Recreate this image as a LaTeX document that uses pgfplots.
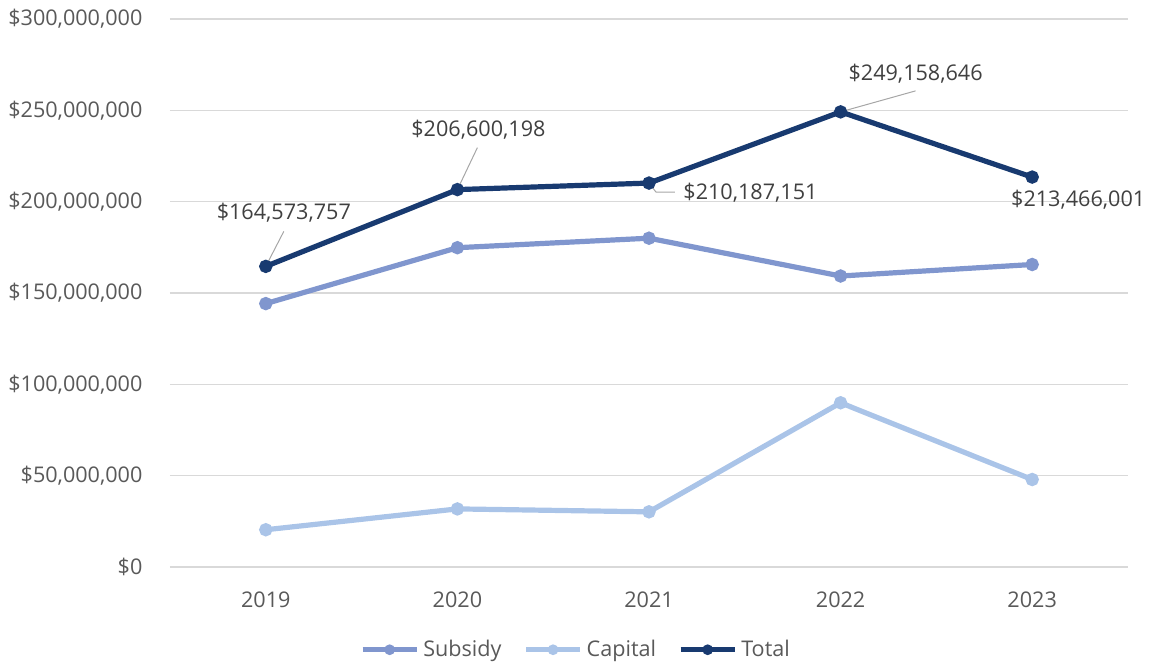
\documentclass[border=0pt]{standalone}
\usepackage{pgfplots}
\pgfplotsset{compat=1.18}
\usepackage{fontspec}
\setmainfont{Open Sans}
\definecolor{cTotal}{HTML}{183A70}
\definecolor{cSub}{HTML}{8096CE}
\definecolor{cCap}{HTML}{AAC4E8}
\definecolor{cGrid}{HTML}{D9D9D9}
\definecolor{cTick}{HTML}{595959}
\definecolor{cLab}{HTML}{404040}
\begin{document}
\fontsize{10.8bp}{13bp}\selectfont
\begin{tikzpicture}
\begin{axis}[
  name=ax,
  scale only axis,
  width=479bp, height=274bp,
  xmin=-0.5, xmax=4.5,
  ymin=0, ymax=300000000,
  xtick={0,1,2,3,4},
  xticklabels={2019,2020,2021,2022,2023},
  ytick={0,50000000,100000000,150000000,200000000,250000000,300000000},
  yticklabels={{\$0},{\$50,000,000},{\$100,000,000},{\$150,000,000},{\$200,000,000},{\$250,000,000},{\$300,000,000}},
  ymajorgrids,
  grid style={cGrid, line width=0.6bp},
  axis line style={draw=none},
  major tick length=0pt,
  tick style={draw=none},
  ticklabel style={font=\fontsize{10.8bp}{13bp}\selectfont, text=cTick},
  yticklabel style={anchor=east, xshift=-10bp},
  xticklabel style={anchor=north, yshift=-8.5bp},
  scaled y ticks=false,
  clip=false,
  legend style={draw=none, fill=none, at={(0.4248,-0.151)}, anchor=center,
    legend columns=3, font=\fontsize{10.8bp}{13bp}\selectfont, text=cTick,
    /tikz/every even column/.append style={column sep=9bp},
    inner sep=0pt, outer sep=0pt},
  legend cell align=left,
  legend image code/.code={\draw[#1, mark size=1.3bp, mark repeat=2, mark phase=2] plot coordinates {(0bp,0bp) (13.5bp,0bp) (27bp,0bp)};},
]
\addplot[cSub, line width=2.6bp, mark=*, mark size=2bp, mark options={solid}] coordinates {
  (0,144200000) (1,174800000) (2,180000000) (3,159300000) (4,165600000)};
\addlegendentry{Subsidy}
\addplot[cCap, line width=2.6bp, mark=*, mark size=2bp, mark options={solid}] coordinates {
  (0,20400000) (1,31800000) (2,30200000) (3,89900000) (4,47900000)};
\addlegendentry{Capital}
\addplot[cTotal, line width=2.6bp, mark=*, mark size=2bp, mark options={solid}] coordinates {
  (0,164573757) (1,206600198) (2,210187151) (3,249158646) (4,213466001)};
\addlegendentry{Total}

\draw[gray!70, line width=0.5bp] (axis cs:0,164573757) -- ++(9bp,17.5bp);
\node[text=cLab, anchor=center, inner sep=0pt] at ([shift={(9bp,27bp)}]axis cs:0,164573757) {\$164,573,757};
\draw[gray!70, line width=0.5bp] (axis cs:1,206600198) -- ++(10bp,21bp);
\node[text=cLab, anchor=center, inner sep=0pt] at ([shift={(10.5bp,30bp)}]axis cs:1,206600198) {\$206,600,198};
\draw[gray!70, line width=0.5bp] (axis cs:2,210187151) -- ++(3.5bp,-4.5bp) -- ++(9.5bp,0bp);
\node[text=cLab, anchor=west, inner sep=0pt] at ([shift={(17bp,-5bp)}]axis cs:2,210187151) {\$210,187,151};
\draw[gray!70, line width=0.5bp] (axis cs:3,249158646) -- ++(37.5bp,10.5bp);
\node[text=cLab, anchor=center, inner sep=0pt] at ([shift={(37.5bp,19bp)}]axis cs:3,249158646) {\$249,158,646};
\node[text=cLab, anchor=center, inner sep=0pt] at ([shift={(23bp,-11.5bp)}]axis cs:4,213466001) {\$213,466,001};
\end{axis}
\pgfresetboundingbox
\path (ax.south west) ++(-85bp,-49bp) rectangle ++(575.5bp,332.5bp);
\end{tikzpicture}
\end{document}
